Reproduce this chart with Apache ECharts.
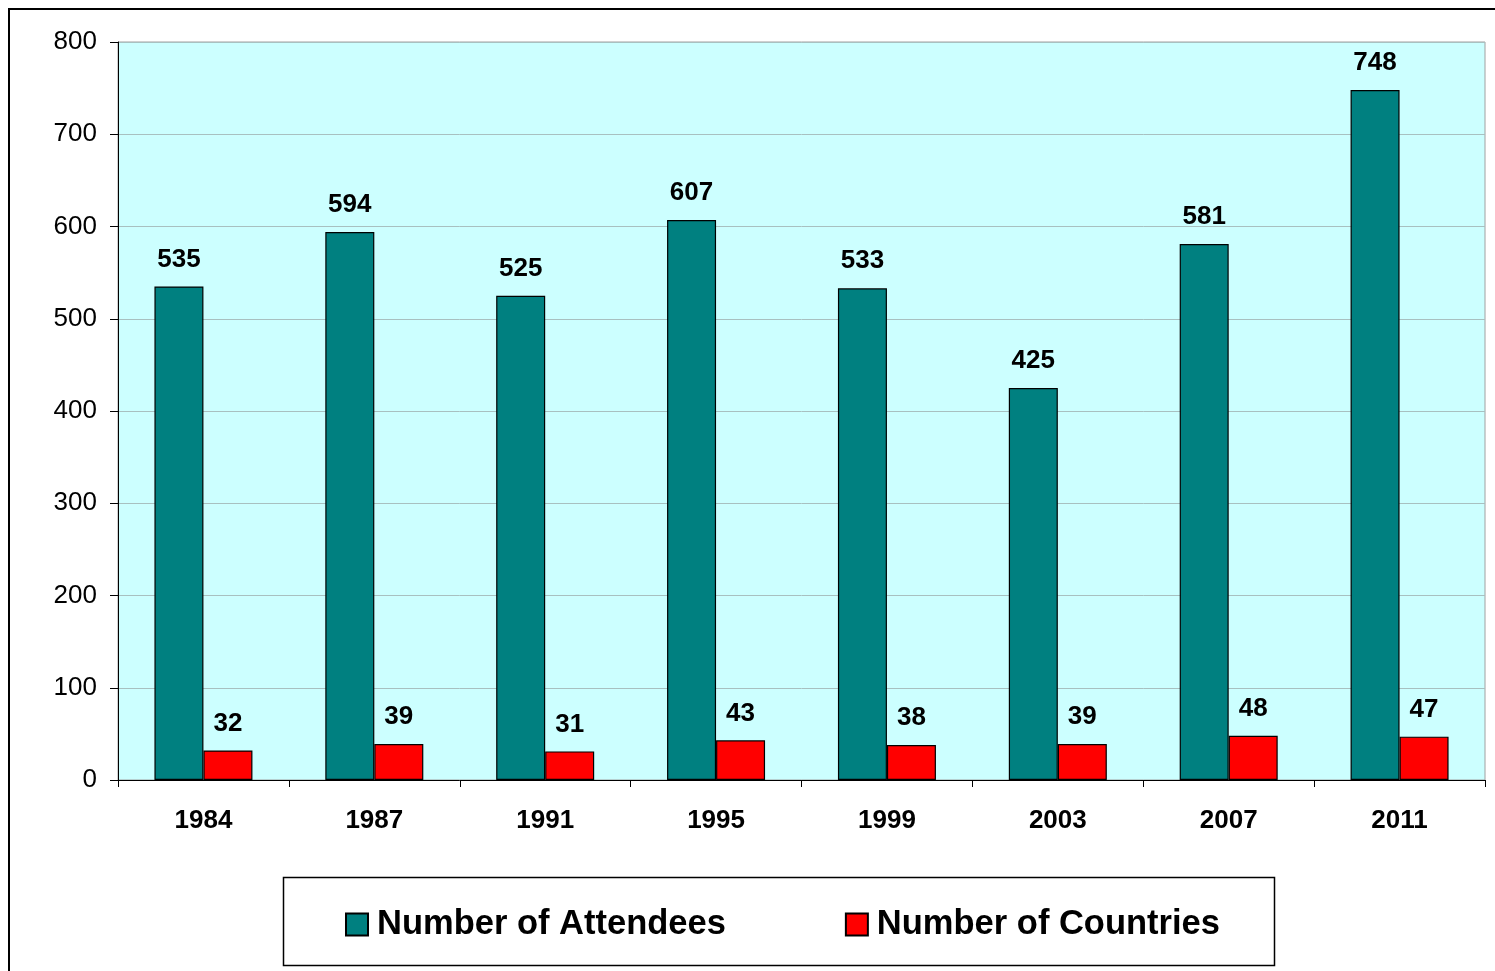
<!DOCTYPE html>
<html>
<head>
<meta charset="utf-8">
<script src="https://cdn.jsdelivr.net/npm/echarts@6/dist/echarts.min.js"></script>
<style>html,body{margin:0;padding:0;background:#fff}#c{width:1495px;height:971px}</style>
</head>
<body>
<div id="c"></div>
<script>
var years = ['1984','1987','1991','1995','1999','2003','2007','2011'];
var attendees = [535, 594, 525, 607, 533, 425, 581, 748];
var countries = [32, 39, 31, 43, 38, 39, 48, 47];
var yTicks = [0, 100, 200, 300, 400, 500, 600, 700, 800];

var chart = echarts.init(document.getElementById('c'));
var font = '"Liberation Sans", Arial, sans-serif';
chart.setOption({
  animation: false,
  backgroundColor: '#ffffff',
  graphic: [
    { type: 'rect', shape: { x: 9, y: 9, width: 1500, height: 1000 }, style: { fill: 'none', stroke: '#000', lineWidth: 2 }, z: -1 },
    { type: 'rect', shape: { x: 283.5, y: 877.5, width: 991, height: 88 }, style: { fill: '#fff', stroke: '#000', lineWidth: 1.5 }, z: 0 }
  ],
  grid: {
    left: 118, right: 10, top: 42, bottom: 191,
    show: true, backgroundColor: '#ccffff', borderColor: '#a0a0a0', borderWidth: 1
  },
  legend: {
    left: 340, top: 902, itemWidth: 22, itemHeight: 22, itemGap: 119,
    textStyle: { fontFamily: font, fontSize: 34.5, fontWeight: 'bold', color: '#000', padding: [0, 0, 0, 4] },
    icon: 'rect', z: 5
  },
  xAxis: {
    type: 'category', data: years,
    axisLine: { lineStyle: { color: '#000', width: 1 } },
    axisTick: { show: true, length: 7, lineStyle: { color: '#000' }, alignWithLabel: false },
    axisLabel: { fontFamily: font, fontSize: 26, fontWeight: 'bold', color: '#000', margin: 28 }
  },
  yAxis: {
    type: 'value', min: 0, max: 800, interval: 100,
    axisLine: { show: true, lineStyle: { color: '#000', width: 1 } },
    axisTick: { show: true, length: 8, lineStyle: { color: '#000' } },
    axisLabel: { fontFamily: font, fontSize: 26, color: '#000', margin: 21,
      formatter: function (v) { return yTicks.indexOf(v) >= 0 ? String(v) : ''; } },
    splitLine: { lineStyle: { color: '#a8c0c0', width: 1 } }
  },
  series: [
    {
      name: 'Number of Attendees', type: 'bar', data: attendees,
      barWidth: 49, barGap: '0%',
      itemStyle: { color: '#008080', borderColor: '#000', borderWidth: 1.2 },
      label: { show: true, position: 'top', distance: 14, fontFamily: font, fontSize: 26, fontWeight: 'bold', color: '#000' }
    },
    {
      name: 'Number of Countries', type: 'bar', data: countries,
      barWidth: 49,
      itemStyle: { color: '#ff0000', borderColor: '#000', borderWidth: 1.2 },
      label: { show: true, position: 'top', distance: 14, fontFamily: font, fontSize: 26, fontWeight: 'bold', color: '#000' }
    }
  ]
});
</script>
</body>
</html>
